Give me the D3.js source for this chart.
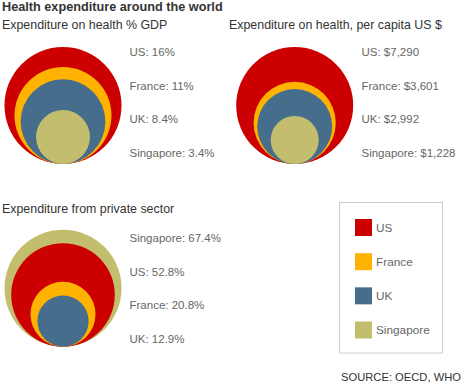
<!DOCTYPE html>
<html>
<head>
<meta charset="utf-8">
<script src="https://cdn.jsdelivr.net/npm/d3@7"></script>
<style>
  body { margin: 0; background: #fff; }
  svg { font-family: Arial, "Liberation Sans", sans-serif; display: block; }
</style>
</head>
<body>
<svg id="chart" width="466" height="385"></svg>
<script>
// data
var countries = ["US", "France", "UK", "Singapore"];
var colours = ["#cc0000", "#ffb300", "#466d8c", "#c2be6e"];
var gdpShare = [16, 11, 8.4, 3.4];
var perCapita = [7290, 3601, 2992, 1228];
var privateShare = [52.8, 20.8, 12.9, 67.4];

var svg = d3.select("#chart");
var colour = d3.scaleOrdinal().domain(countries).range(colours);

svg.append("text")
  .attr("x", 2).attr("y", 11)
  .attr("font-size", 12.7).attr("font-weight", "bold").attr("fill", "#333")
  .text("Health expenditure around the world");

function panel(opts){
  var rows = countries.map(function(c, i){ return { name: c, value: opts.values[i] }; });
  rows.sort(function(a, b){ return b.value - a.value; });

  var g = svg.append("g").attr("transform", "translate(" + opts.left + "," + opts.top + ")");

  g.append("text")
    .attr("x", opts.titleX).attr("y", 0)
    .attr("font-size", 12.4).attr("fill", "#333")
    .text(opts.title);

  var r = d3.scaleSqrt().domain([0, d3.max(rows, function(d){ return d.value; })]).range([0, 58.5]);

  // circles share a common bottom point
  g.selectAll("circle").data(rows).enter().append("circle")
    .attr("cx", opts.cx)
    .attr("cy", function(d){ return opts.bottom - r(d.value); })
    .attr("r", function(d){ return r(d.value); })
    .attr("fill", function(d){ return colour(d.name); });

  var y = d3.scalePoint().domain(rows.map(function(d){ return d.name; }))
    .range([opts.labelTop, opts.labelTop + 100.5]);

  g.selectAll("text.lab").data(rows).enter().append("text")
    .attr("class", "lab")
    .attr("x", opts.labelX)
    .attr("y", function(d){ return y(d.name); })
    .attr("dy", "0.35em")
    .attr("font-size", 11.5).attr("fill", "#666")
    .text(function(d){ return d.name + ": " + opts.format(d.value); });
}

panel({
  left: 0, top: 29, titleX: 2, title: "Expenditure on health % GDP",
  values: gdpShare, cx: 63, bottom: 135, labelX: 129.5, labelTop: 23,
  format: function(v){ return v + "%"; }
});

panel({
  left: 0, top: 29, titleX: 229, title: "Expenditure on health, per capita US $",
  values: perCapita, cx: 294.7, bottom: 135, labelX: 361.5, labelTop: 23,
  format: function(v){ return "$" + d3.format(",")(v); }
});

panel({
  left: 0, top: 213, titleX: 2, title: "Expenditure from private sector",
  values: privateShare, cx: 63, bottom: 133.7, labelX: 129.5, labelTop: 25.3,
  format: function(v){ return d3.format(".1f")(v) + "%"; }
});

// legend
var legend = svg.append("g").attr("transform", "translate(339.5,202.5)");
legend.append("rect")
  .attr("width", 103).attr("height", 150.5)
  .attr("fill", "#fff").attr("stroke", "#ccc");

var ly = d3.scalePoint().domain(countries).range([25, 127.5]);
var item = legend.selectAll("g.item").data(countries).enter().append("g")
  .attr("class", "item")
  .attr("transform", function(d){ return "translate(15.5," + ly(d) + ")"; });
item.append("rect")
  .attr("x", 0).attr("y", -8.5).attr("width", 17).attr("height", 17)
  .attr("fill", function(d){ return colour(d); });
item.append("text")
  .attr("x", 21).attr("dy", "0.35em")
  .attr("font-size", 11.8).attr("fill", "#666")
  .text(function(d){ return d; });

svg.append("text")
  .attr("x", 461).attr("y", 381)
  .attr("text-anchor", "end")
  .attr("font-size", 11.2).attr("fill", "#333")
  .text("SOURCE: OECD, WHO");
</script>
</body>
</html>
